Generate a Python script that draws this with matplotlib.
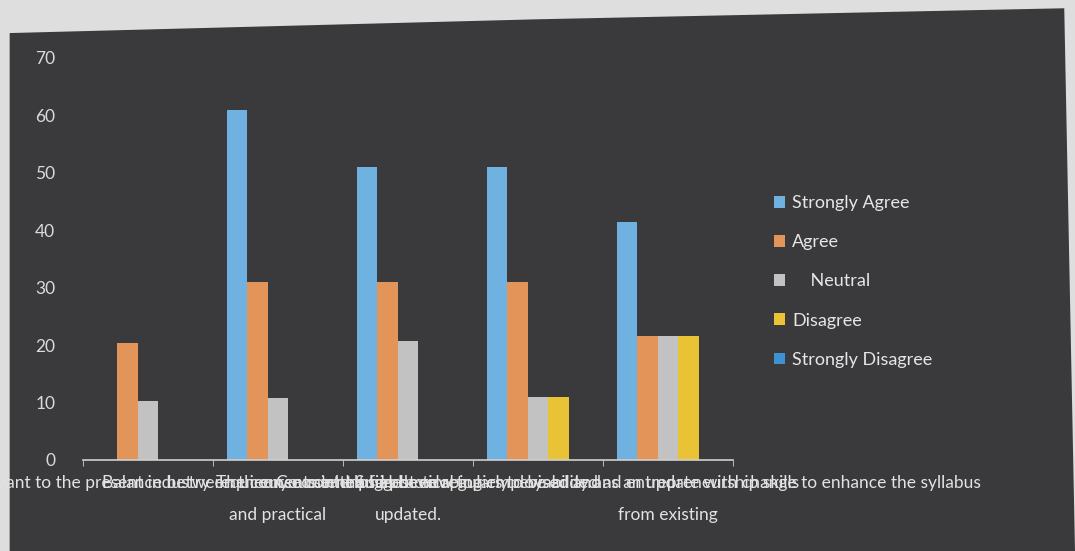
import matplotlib.pyplot as plt
import numpy as np
from matplotlib.patches import Polygon

categories = [
    "Course is relevant to the present industry requirements in the field",
    "Balance between theory content and practical\nand practical",
    "The course content has been regularly revised and\nupdated.",
    "Course helps in developing employability and entrepreneurship skills",
    "Suggest new topics to be added as an update with change to enhance the syllabus\nfrom existing",
]
series = ["Strongly Agree", "Agree", "    Neutral", "Disagree", "Strongly Disagree"]
strongly_agree = [0, 61, 51, 51, 41.5]
agree = [20.3, 31, 31, 31, 21.6]
neutral = [10.3, 10.8, 20.7, 11, 21.6]
disagree = [0, 0, 0, 11, 21.6]
strongly_disagree = [0, 0, 0, 0, 0]
values = [strongly_agree, agree, neutral, disagree, strongly_disagree]
colors = ["#6fb2e2", "#e39459", "#c2c2c2", "#e9c235", "#3f92d2"]

plt.rcParams['font.family'] = ['Lato', 'DejaVu Sans']

fig = plt.figure(figsize=(10.75, 5.51), dpi=100)
fig.patch.set_facecolor("#dedede")
# dark chart board (photo of a slide)
board = Polygon([[0.009, 0.0], [0.009, 0.94], [0.5, 0.965], [0.99, 0.985], [1.0, 0.0]],
                closed=True, transform=fig.transFigure, facecolor="#3a3a3c",
                edgecolor="none", zorder=0)
fig.patches.append(board)

ax = fig.add_axes([83 / 1075, 91 / 551, 650 / 1075, 402 / 551])
ax.set_facecolor("none")
ax.set_zorder(2)

x = np.arange(len(categories))
w = 0.158
for i, (name, vals) in enumerate(zip(series, values)):
    ax.bar(x + (i - 2) * w, vals, width=w, color=colors[i], label=name)

ax.set_xlim(-0.5, 4.5)
ax.set_ylim(0, 70)
ax.set_yticks(range(0, 71, 10))
ax.set_xticks(x)
ax.set_xticklabels(categories, fontsize=12.5, color="#e2e2e2", linespacing=2.2)
ax.set_xticks(np.arange(-0.5, 5, 1), minor=True)
ax.tick_params(axis="x", which="major", length=0, pad=11)
ax.tick_params(axis="x", which="minor", length=4, color="#cfcfcf", direction="out")
ax.tick_params(axis="y", length=0, labelsize=12.5, labelcolor="#dadada", pad=20)
for s in ["top", "right", "left"]:
    ax.spines[s].set_visible(False)
ax.spines["bottom"].set_color("#cfcfcf")
ax.spines["bottom"].set_linewidth(1.2)

leg = fig.legend(loc="upper left", bbox_to_anchor=(758 / 1075, 1 - 179 / 551),
                 frameon=False, fontsize=13, labelcolor="#e6e6e6",
                 handlelength=0.6, handleheight=0.6, handletextpad=0.4,
                 labelspacing=1.28)
leg.set_zorder(3)

plt.savefig("out.png", dpi=100, facecolor=fig.get_facecolor())
